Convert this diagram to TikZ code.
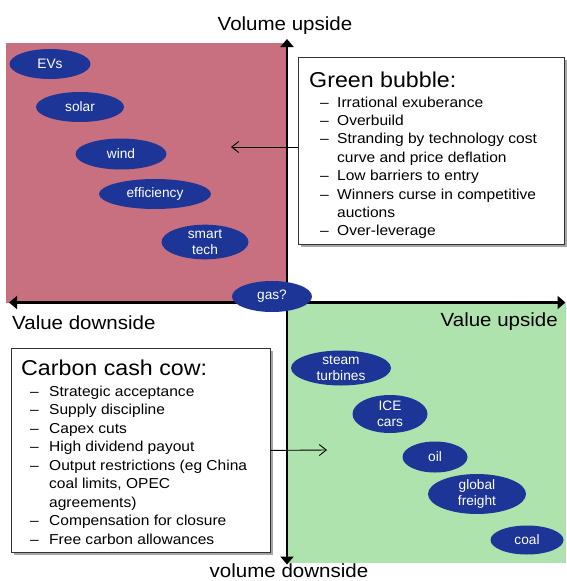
\documentclass[tikz,border=0pt]{standalone}
\usepackage{fontspec}
\setmainfont{Liberation Sans}
\newfontfamily\widefont{Liberation Sans}[FakeStretch=1.08]
\usetikzlibrary{shapes.geometric,arrows.meta,shadows}
\definecolor{pinkq}{HTML}{C8707F}
\definecolor{greenq}{HTML}{AEE3AE}
\definecolor{blueq}{HTML}{1C3596}
\newcommand\gdsh{\makebox[17pt][l]{–}}
\newcommand\cdsh{\makebox[19pt][l]{–}}
\begin{document}
\begin{tikzpicture}[x=1pt,y=-1pt,
  bub/.style={ellipse, fill=blueq, text=white, inner sep=0pt, align=center,
    font=\fontsize{13.7}{15.5}\selectfont},
  axisline/.style={line width=2.6pt},
  bigtip/.tip={Triangle[length=8pt,width=13pt]},
  thinarrow/.style={line width=0.9pt, -{Straight Barb[length=7pt,width=11pt]}},
  infobox/.style={draw=black!80, line width=0.8pt, fill=white, inner sep=0pt,
    anchor=north west, drop shadow={shadow xshift=2.5pt, shadow yshift=-2.5pt, fill=black, opacity=0.35}},
  axislabel/.style={font=\widefont\fontsize{19}{22}\selectfont, inner sep=0pt},
  boxtitle/.style={font=\widefont\fontsize{21.5}{24}\selectfont, inner sep=0pt, anchor=base west},
  boxlist/.style={font=\widefont\fontsize{14.4}{18.4}\selectfont, inner sep=0pt, anchor=base west},
]
\useasboundingbox (0,0) rectangle (566,581);

% quadrants
\fill[pinkq] (6,42.7) rectangle (287,302.5);
\fill[greenq] (287,302.5) rectangle (566,563);

% axes
\coordinate (top) at (287,39);
\coordinate (bottom) at (287,564.5);
\coordinate (left) at (9,302.5);
\coordinate (right) at (565.5,302.5);
\draw[axisline, {bigtip}-{bigtip}] (left) -- (right);
\draw[axisline, {bigtip}-{bigtip}] (bottom) -- (top);

% axis labels
\node[axislabel, anchor=base] (lvu) at (285,30) {Volume upside};
\node[axislabel, anchor=base west] (lvd) at (12,329) {Value downside};
\node[axislabel, anchor=base east] (lvup) at (558,326) {Value upside};
\node[axislabel, anchor=base] (lvdn) at (289,577.5) {volume downside};

% bubbles
\node[bub, minimum width=81pt, minimum height=30pt] (evs) at (50,64) {EVs};
\node[bub, minimum width=88pt, minimum height=30pt] (solar) at (80,107) {solar};
\node[bub, minimum width=91pt, minimum height=31pt] (wind) at (121,154) {wind};
\node[bub, minimum width=112pt, minimum height=30pt] (eff) at (155,194) {efficiency};
\node[bub, minimum width=87pt, minimum height=31pt] (smart) at (205,242) {smart\\tech};
\node[bub, minimum width=80pt, minimum height=31pt] (gas) at (272,296.5) {gas?};
\node[bub, minimum width=100pt, minimum height=35pt] (steam) at (341,368) {steam\\turbines};
\node[bub, minimum width=75pt, minimum height=38pt] (ice) at (390,414) {ICE\\cars};
\node[bub, minimum width=65pt, minimum height=31pt] (oil) at (435,457) {oil};
\node[bub, minimum width=98pt, minimum height=30pt] (freight) at (477,494) {global\\freight};
\node[bub, minimum width=73pt, minimum height=29pt] (coal) at (527,540) {coal};

% Green bubble box
\node[infobox, minimum width=266pt, minimum height=187pt] (gb) at (298,57) {};
\node[boxtitle] (gbt) at (309,87) {Green bubble:};
\node[boxlist] (gbl) at (320,107) {\begin{tabular}[t]{@{}l@{}}
\gdsh Irrational exuberance\\
\gdsh Overbuild\\
\gdsh Stranding by technology cost\\
\hspace*{17pt}curve and price deflation\\
\gdsh Low barriers to entry\\
\gdsh Winners curse in competitive\\
\hspace*{17pt}auctions\\
\gdsh Over-leverage
\end{tabular}};
\coordinate (gbtip) at (231,147);
\draw[thinarrow] (gbtip -| gb.west) -- (gbtip);

% Carbon cash cow box
\node[infobox, minimum width=259pt, minimum height=204pt] (cc) at (11,348) {};
\node[boxtitle] (cct) at (21,375) {Carbon cash cow:};
\node[boxlist, font=\widefont\fontsize{14.4}{18.5}\selectfont] (ccl) at (30,396) {\begin{tabular}[t]{@{}l@{}}
\cdsh Strategic acceptance\\
\cdsh Supply discipline\\
\cdsh Capex cuts\\
\cdsh High dividend payout\\
\cdsh Output restrictions (eg China\\
\hspace*{19pt}coal limits, OPEC\\
\hspace*{19pt}agreements)\\
\cdsh Compensation for closure\\
\cdsh Free carbon allowances
\end{tabular}};
\coordinate (cctip) at (327,450);
\draw[thinarrow] (cc.east) -- (cctip);
\end{tikzpicture}
\end{document}
